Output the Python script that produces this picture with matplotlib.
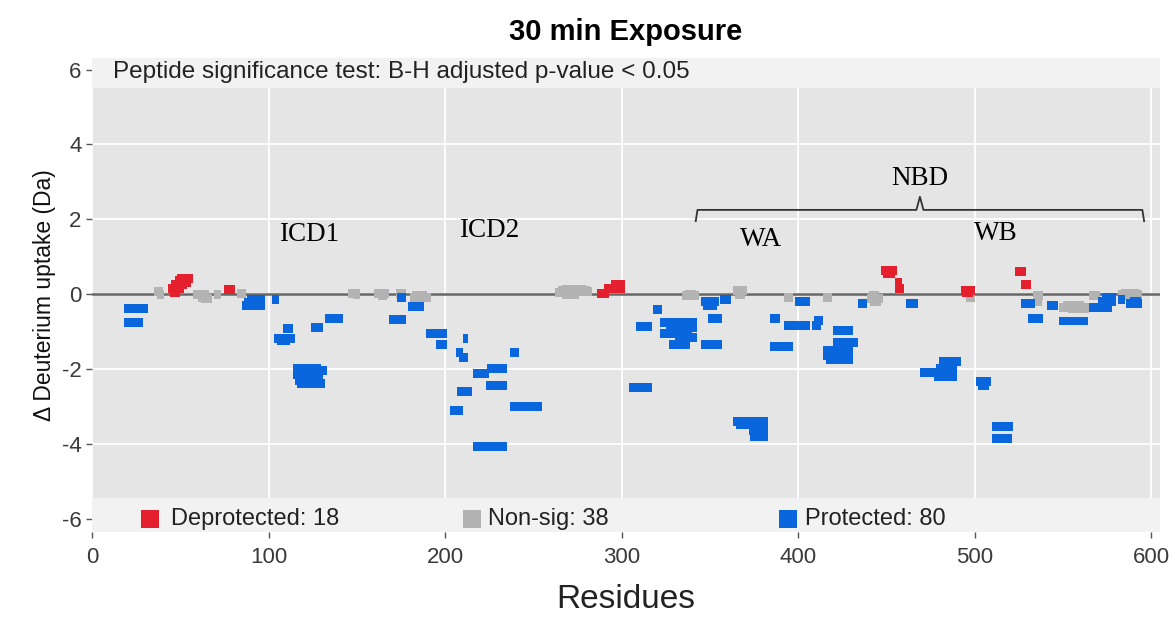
import numpy as np
import matplotlib.pyplot as plt

plt.rcParams['font.family'] = ['Liberation Sans', 'DejaVu Sans']

# peptides: (start residue, end residue, delta uptake in Da)
deprotected = [
    (43, 52, 0.15), (45, 54, 0.25), (47, 56, 0.35), (48, 57, 0.42), (50, 56, 0.30),
    (44, 50, 0.03), (75, 81, 0.12), (286, 293, 0.02), (290, 302, 0.15), (294, 302, 0.25),
    (447, 456, 0.62), (448, 455, 0.55), (455, 459, 0.30), (455, 460, 0.15),
    (492, 500, 0.10), (493, 499, 0.05), (523, 529, 0.60), (526, 532, 0.25),
]

nonsig = [
    (35, 40, 0.07), (37, 41, 0.0), (57, 66, -0.02), (60, 66, -0.08), (62, 68, -0.13),
    (69, 73, 0.0), (82, 87, 0.02), (145, 152, 0.02), (148, 152, -0.02), (160, 168, 0.02),
    (162, 167, -0.05), (172, 178, 0.02), (180, 192, -0.10), (181, 190, -0.05),
    (264, 282, 0.10), (262, 275, 0.05), (266, 280, 0.12), (270, 283, 0.08), (266, 276, 0.0),
    (334, 344, -0.05), (336, 342, -0.02), (363, 371, 0.10), (364, 370, 0.0),
    (392, 397, -0.10), (414, 419, -0.10), (439, 448, -0.12), (441, 447, -0.20),
    (440, 446, -0.05), (495, 500, -0.10), (533, 539, -0.05), (534, 538, -0.20),
    (548, 565, -0.35), (550, 562, -0.30), (553, 565, -0.38), (565, 571, -0.05),
    (581, 595, 0.0), (583, 593, 0.02), (585, 595, -0.03),
]

protected = [
    (18, 32, -0.39), (18, 29, -0.76), (88, 98, -0.15), (85, 98, -0.30), (86, 96, -0.22),
    (102, 106, -0.15), (108, 114, -0.93), (103, 115, -1.20), (105, 112, -1.25),
    (114, 130, -2.00), (114, 131, -2.15), (115, 130, -2.30), (116, 132, -2.40),
    (120, 133, -2.05), (124, 131, -0.90), (132, 142, -0.65),
    (173, 178, -0.10), (168, 178, -0.68), (179, 188, -0.33), (189, 201, -1.05),
    (195, 201, -1.35), (210, 213, -1.20), (206, 210, -1.55), (208, 213, -1.70),
    (216, 225, -2.13), (224, 235, -2.00), (223, 235, -2.45), (207, 215, -2.60),
    (203, 210, -3.10), (237, 242, -1.55), (237, 255, -3.00), (216, 235, -4.07),
    (345, 355, -0.20), (346, 354, -0.30), (356, 362, -0.15), (318, 323, -0.40),
    (308, 317, -0.88), (322, 343, -0.75), (325, 343, -0.90), (322, 340, -1.05),
    (330, 343, -1.15), (327, 339, -1.35), (345, 357, -1.35), (349, 357, -0.65),
    (304, 317, -2.50),
    (398, 407, -0.20), (434, 439, -0.25), (461, 468, -0.25), (384, 390, -0.65),
    (392, 407, -0.85), (409, 414, -0.70), (408, 413, -0.85), (420, 431, -0.97),
    (384, 397, -1.40), (420, 434, -1.30), (414, 431, -1.50), (414, 430, -1.65),
    (416, 431, -1.75),
    (363, 383, -3.40), (365, 378, -3.50), (372, 383, -3.65), (373, 383, -3.80),
    (469, 479, -2.10), (480, 492, -1.80), (478, 490, -2.00), (477, 490, -2.20),
    (501, 509, -2.35), (502, 508, -2.45), (510, 522, -3.55), (510, 521, -3.85),
    (526, 534, -0.25), (530, 539, -0.65), (541, 547, -0.30), (548, 564, -0.72),
    (565, 578, -0.35), (570, 580, -0.20), (572, 580, -0.10), (581, 585, -0.15),
    (586, 595, -0.25), (588, 594, -0.20),
]

red = '#e5202e'
grey = '#b3b3b3'
blue = '#0a66dc'

fig = plt.figure(figsize=(11.75, 6.19), dpi=100)
ax = fig.add_axes([92 / 1175, 1 - 532 / 619, 1068 / 1175, 474 / 619])
ax.set_facecolor('#e5e5e5')
ax.set_xlim(0, 605)
ax.set_ylim(-6.36, 6.31)
for s in ax.spines.values():
    s.set_visible(False)

ax.set_xticks([0, 100, 200, 300, 400, 500, 600])
ax.set_yticks([-6, -4, -2, 0, 2, 4, 6])
ax.set_yticklabels(['-6', '-4', '-2', '0', '2', '4', '6'])
ax.grid(color='white', lw=1.3)
ax.set_axisbelow(True)
ax.tick_params(length=4, width=1, color='#555555', labelcolor='#3a3a3a', labelsize=16)
ax.tick_params(axis='x', pad=7)

# light strips for header text and legend
ax.axhspan(5.5, 6.31, color='#f2f2f2', lw=0, zorder=1)
ax.axhspan(-6.36, -5.45, color='#f2f2f2', lw=0, zorder=1)

ax.axhline(0, color='#666666', lw=1.8, zorder=2)

h = 0.24
for data, col in [(nonsig, grey), (deprotected, red), (protected, blue)]:
    st = np.array([d[0] for d in data])
    en = np.array([d[1] for d in data])
    val = np.array([d[2] for d in data])
    ax.barh(val, en - st, left=st, height=h, color=col, lw=0, zorder=3)

ax.text(12, 5.93, 'Peptide significance test: B-H adjusted p-value < 0.05',
        fontsize=17.5, color='#222222', va='center', zorder=4)

# legend in the bottom strip
for xs, xt, col, lab in [(32.8, 44.5, red, 'Deprotected: 18'),
                         (215, 224.5, grey, 'Non-sig: 38'),
                         (394, 404, blue, 'Protected: 80')]:
    ax.plot(xs, -6.0, marker='s', ms=13, color=col, mew=0, zorder=4)
    ax.text(xt, -6.0, lab, fontsize=17, color='#222222', va='center', zorder=4)

# domain annotations
serif = dict(family='Liberation Serif', fontsize=19.5, color='black', ha='center', va='center')
ax.text(123, 1.6, 'ICD1', **serif)
ax.text(225, 1.7, 'ICD2', **serif)
ax.text(469, 3.1, 'NBD', **serif)
ax.text(379, 1.45, 'WA', **serif)
ax.text(512, 1.63, 'WB', **serif)

# curly bracket for NBD
bx = [342, 343, 467, 469, 471, 595, 596]
by = [1.95, 2.25, 2.25, 2.6, 2.25, 2.25, 1.95]
ax.plot(bx, by, color='#333333', lw=1.3, zorder=4)

ax.set_title('30 min Exposure', fontsize=21, fontweight='bold', pad=13)
ax.set_xlabel('Residues', fontsize=24, color='#222222', labelpad=11)
ax.set_ylabel('Δ Deuterium uptake (Da)', fontsize=16.5, color='#111111', labelpad=4)

fig.savefig('out.png', dpi=100)
